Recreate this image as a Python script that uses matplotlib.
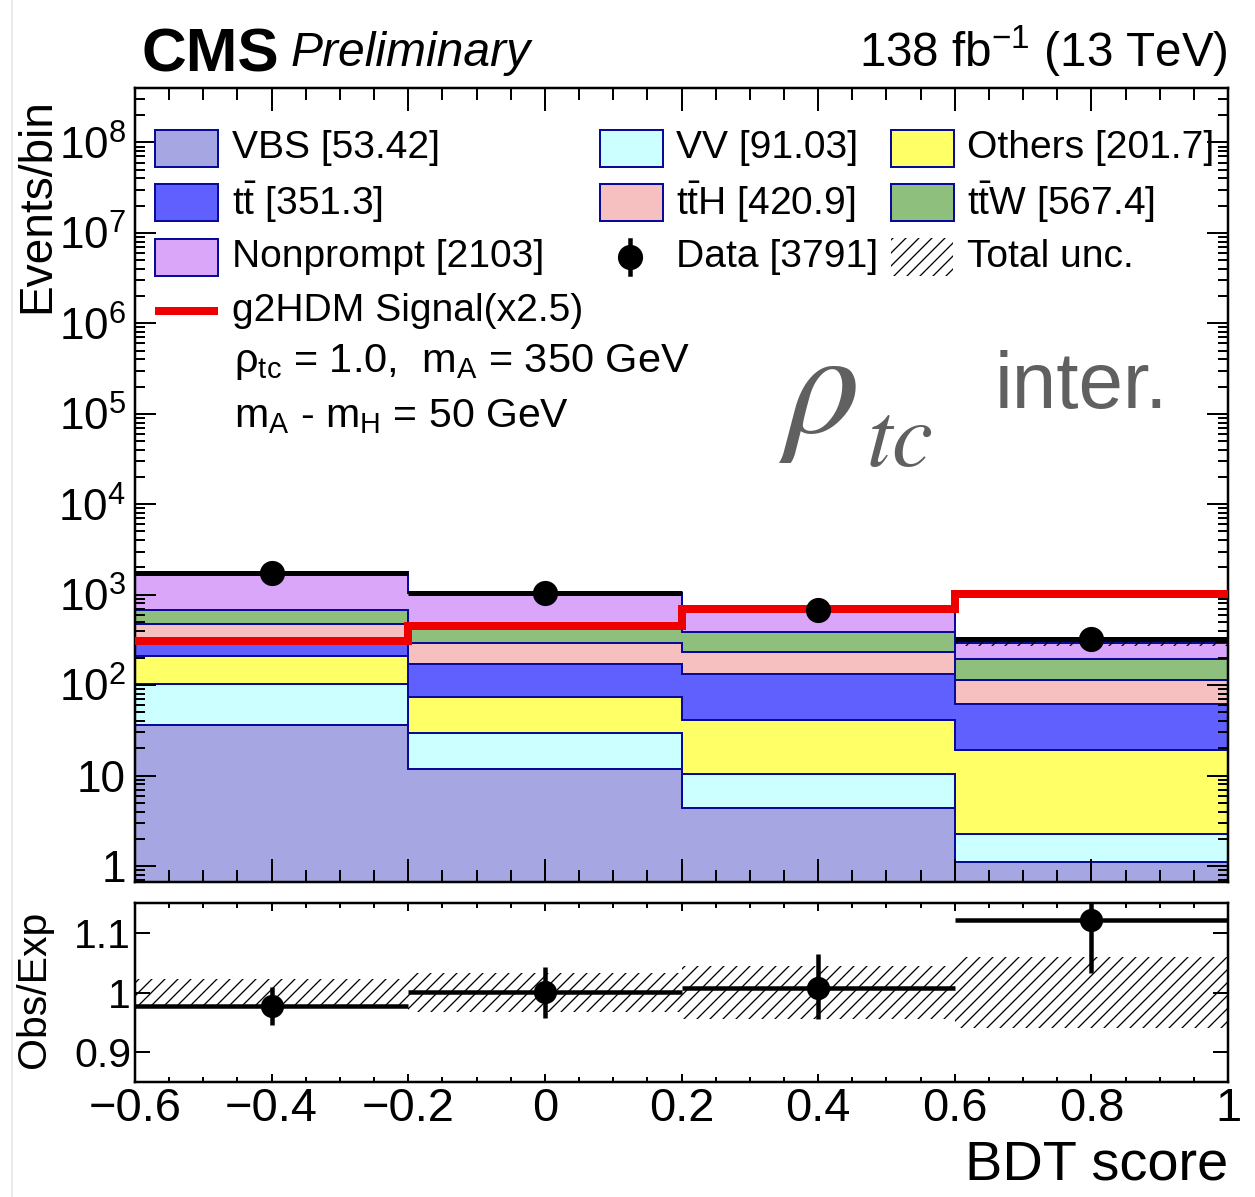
import numpy as np
import matplotlib
matplotlib.use("Agg")
import matplotlib.pyplot as plt
from matplotlib.patches import Rectangle
from matplotlib.lines import Line2D
from matplotlib.ticker import MultipleLocator, LogLocator, FuncFormatter, FixedLocator, NullLocator

# ---------------------------------------------------------------- data
bin_edges = [-0.6, -0.2, 0.2, 0.6, 1.0]

# background yields per bin, listed in stacking order (bottom -> top)
vbs = [36.0, 11.9, 4.4, 1.12]
vv = [66.3, 17.6, 6.0, 1.13]
others = [110.0, 44.0, 31.0, 16.7]
ttbar = [120.0, 98.0, 90.0, 43.3]
tth = [147.0, 118.0, 103.0, 52.9]
ttw = [205.0, 135.0, 150.0, 77.4]
nonprompt = [1085.0, 630.0, 290.0, 98.0]

data_obs = [1730, 1055, 680, 326]
signal_x2p5 = [310, 445, 700, 1010]

# relative total uncertainty of the prediction and data errors in the ratio
rel_unc = [0.022, 0.032, 0.044, 0.060]
ratio_err_lo = [0.033, 0.043, 0.053, 0.090]
ratio_err_hi = [0.031, 0.042, 0.056, 0.090]

process_names = ["VBS", "VV", "Others", r"$\mathregular{t\bar{t}}$",
                 r"$\mathregular{t\bar{t}}$H", r"$\mathregular{t\bar{t}}$W", "Nonprompt"]
process_yields = [vbs, vv, others, ttbar, tth, ttw, nonprompt]
process_colors = ["#a6a6e2", "#ccffff", "#ffff66", "#6060ff", "#f6c0c0", "#8fbf7c", "#d9a6fa"]
edge_color = "#0a0a9a"

# ---------------------------------------------------------------- setup
W, H, DPI = 1255, 1197, 156
HATCH = "////"


def pt(p):
    """pixels -> points"""
    return p * 72.0 / DPI


def fx(x):
    return x / W


def fy(y):
    return 1.0 - y / H


plt.rcParams["font.family"] = ["Liberation Sans", "DejaVu Sans"]
plt.rcParams["mathtext.fontset"] = "custom"
plt.rcParams["mathtext.rm"] = "Liberation Sans"
plt.rcParams["mathtext.it"] = "Liberation Sans:italic"
plt.rcParams["mathtext.bf"] = "Liberation Sans:bold"
plt.rcParams["mathtext.default"] = "regular"
plt.rcParams["hatch.linewidth"] = pt(1.3)
plt.rcParams["hatch.color"] = "black"

fig = plt.figure(figsize=(W / DPI, H / DPI), dpi=DPI)
ax = fig.add_axes([fx(135), fy(882), (1228 - 135) / W, (882 - 88) / H])
axr = fig.add_axes([fx(135), fy(1082), (1228 - 135) / W, (1082 - 903) / H])

edges = np.array(bin_edges)
centers = 0.5 * (edges[:-1] + edges[1:])
half_w = 0.5 * np.diff(edges)

# ---------------------------------------------------------------- main panel
ax.set_yscale("log", nonpositive="clip")
cum = np.zeros(len(centers))
for vals, col in zip(process_yields, process_colors):
    vals = np.asarray(vals)
    ax.stairs(cum + vals, edges, baseline=cum.copy(), fill=True,
              facecolor=col, edgecolor=edge_color, linewidth=pt(2.0), zorder=1)
    cum = cum + vals
total = cum

unc = np.asarray(rel_unc)
ax.stairs(total * (1 + unc), edges, baseline=total * (1 - unc), fill=True,
          facecolor="none", edgecolor="black", linewidth=0, hatch=HATCH, zorder=2)

data_arr = np.asarray(data_obs, dtype=float)
ratio = data_arr / total
err_lo = np.asarray(ratio_err_lo) * total
err_hi = np.asarray(ratio_err_hi) * total

ax.errorbar(centers, data_arr, xerr=half_w, yerr=[err_lo, err_hi], fmt="none",
            ecolor="black", elinewidth=pt(5), capsize=0, zorder=3)
sig = ax.stairs(signal_x2p5, edges, baseline=None, color="#ee0000",
                linewidth=pt(8), zorder=4)
sig.set_joinstyle("miter")
ax.plot(centers, data_arr, "o", color="black", markersize=pt(23), zorder=5)

ax.set_xlim(edges[0], edges[-1])
ax.set_ylim(0.666, 4e8)


def log_label(v, pos):
    e = int(round(np.log10(v)))
    if e == 0:
        return "1"
    if e == 1:
        return "10"
    return r"10$^{%d}$" % e


ax.yaxis.set_major_locator(LogLocator(base=10, numticks=20))
ax.yaxis.set_minor_locator(LogLocator(base=10, subs=np.arange(2, 10), numticks=200))
ax.yaxis.set_major_formatter(FuncFormatter(log_label))
ax.xaxis.set_major_locator(MultipleLocator(0.2))
ax.xaxis.set_minor_locator(MultipleLocator(0.05))
ax.tick_params(which="both", direction="in", top=True, right=True,
               labelbottom=False, width=pt(2), colors="black")
ax.tick_params(axis="x", which="major", length=pt(23))
ax.tick_params(axis="x", which="minor", length=pt(12))
ax.tick_params(axis="y", which="major", length=pt(21), labelsize=pt(44), pad=pt(9))
ax.tick_params(axis="y", which="minor", length=pt(10))
for s in ax.spines.values():
    s.set_linewidth(pt(2.5))

# ---------------------------------------------------------------- ratio panel
axr.stairs(1 + unc, edges, baseline=1 - unc, fill=True, facecolor="none",
           edgecolor="black", linewidth=0, hatch=HATCH, zorder=1)
axr.errorbar(centers, ratio, xerr=half_w, yerr=[ratio_err_lo, ratio_err_hi],
             fmt="o", color="black", markersize=pt(21), elinewidth=pt(4.5),
             capsize=0, zorder=3, clip_on=True)
axr.set_xlim(edges[0], edges[-1])
axr.set_ylim(0.85, 1.15)
axr.yaxis.set_major_locator(FixedLocator([0.9, 1.0, 1.1]))
axr.yaxis.set_minor_locator(NullLocator())
axr.yaxis.set_major_formatter(FuncFormatter(lambda v, p: f"{v:g}"))


def x_label(v, p):
    v = round(v, 3)
    if abs(v) < 1e-9:
        v = 0.0
    return f"{v:g}".replace("-", "\u2212")


axr.xaxis.set_major_locator(MultipleLocator(0.2))
axr.xaxis.set_minor_locator(MultipleLocator(0.05))
axr.xaxis.set_major_formatter(FuncFormatter(x_label))
axr.tick_params(which="both", direction="in", top=True, right=True,
                width=pt(2), colors="black")
axr.tick_params(axis="x", which="major", length=pt(8), labelsize=pt(47), pad=pt(5))
axr.tick_params(axis="x", which="minor", length=pt(5))
axr.tick_params(axis="y", which="major", length=pt(15), labelsize=pt(41), pad=pt(4))
for s in axr.spines.values():
    s.set_linewidth(pt(2.5))

# ---------------------------------------------------------------- titles
fig.text(fx(37), fy(98), "Events/bin", rotation=90, ha="center", va="top",
         fontsize=pt(46))
fig.text(fx(34), fy(911), "Obs/Exp", rotation=90, ha="center", va="top",
         fontsize=pt(41))
fig.text(fx(1228), fy(1179), "BDT score", ha="right", va="baseline",
         fontsize=pt(56))
fig.text(fx(141), fy(71), "CMS", ha="left", va="baseline", fontsize=pt(62),
         fontweight="bold")
fig.text(fx(291), fy(66), "Preliminary", ha="left", va="baseline",
         fontsize=pt(48), style="italic")
fig.text(fx(1228), fy(67), r"138 fb$^{-1}$ (13 TeV)", ha="right", va="baseline",
         fontsize=pt(47.5))

# large annotation (serif italic symbol with subscript)
fig.text(fx(778), fy(432), r"$\mathit{\rho}$", ha="left", va="baseline", fontsize=pt(150),
         math_fontfamily="stix", color="#606060")
fig.text(fx(866), fy(466), r"$\mathit{tc}$", ha="left", va="baseline", fontsize=pt(92),
         math_fontfamily="stix", color="#606060")
fig.text(fx(995), fy(408), "inter.", ha="left", va="baseline", fontsize=pt(80),
         color="#606060")

# ---------------------------------------------------------------- legend
leg_fs = pt(39)
box_w, box_h = 63, 37
col_box_x = [155, 600, 891]
col_txt_x = [232, 676, 967]
row_y = [148.5, 202.5, 257.0, 311.0]


def fmt_total(v):
    return f"{v:.4g}"


entries = [
    (0, 0, 0), (1, 0, 3), (2, 0, 6),
    (0, 1, 1), (1, 1, 4),
    (0, 2, 2), (1, 2, 5),
]
for row, col, idx in entries:
    bx = col_box_x[col]
    by = row_y[row]
    fig.add_artist(Rectangle((fx(bx), fy(by + box_h / 2)), box_w / W, box_h / H,
                             transform=fig.transFigure, facecolor=process_colors[idx],
                             edgecolor=edge_color, linewidth=pt(2)))
    fig.text(fx(col_txt_x[col]), fy(by), f"{process_names[idx]} [{fmt_total(sum(process_yields[idx]))}]",
             ha="left", va="center", fontsize=leg_fs)

# data entry
fig.add_artist(Line2D([fx(630), fx(630)], [fy(240), fy(274)], transform=fig.transFigure,
                      color="black", linewidth=pt(4.5)))
fig.add_artist(Line2D([fx(630)], [fy(257)], transform=fig.transFigure, marker="o",
                      color="black", markersize=pt(23), linestyle="none"))
fig.text(fx(676), fy(257), f"Data [{sum(data_obs)}]", ha="left", va="center", fontsize=leg_fs)

# uncertainty entry
fig.add_artist(Rectangle((fx(891), fy(276)), 62 / W, 38 / H, transform=fig.transFigure,
                         facecolor="none", edgecolor="black", linewidth=0, hatch=HATCH))
fig.text(fx(967), fy(257), "Total unc.", ha="left", va="center", fontsize=leg_fs)

# signal entry
fig.add_artist(Line2D([fx(155), fx(218)], [fy(311), fy(311)], transform=fig.transFigure,
                      color="#ee0000", linewidth=pt(8), solid_capstyle="butt"))
fig.text(fx(232), fy(311), "g2HDM Signal(x2.5)", ha="left", va="center", fontsize=leg_fs)
fig.text(fx(234), fy(372), "\u03c1$_{tc}$ = 1.0,  m$_{A}$ = 350 GeV", ha="left",
         va="baseline", fontsize=pt(41.5))
fig.text(fx(234), fy(427), "m$_{A}$ - m$_{H}$ = 50 GeV", ha="left",
         va="baseline", fontsize=pt(41))

# thin frame line at the left border
fig.add_artist(Line2D([fx(12), fx(12)], [0, 1], transform=fig.transFigure,
                      color="#e4e4e4", linewidth=pt(1.5)))

fig.savefig("out.png", dpi=DPI)
